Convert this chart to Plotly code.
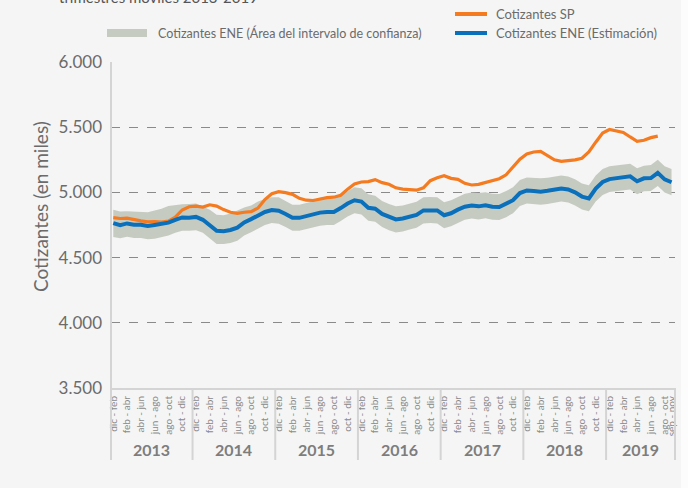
import plotly.graph_objects as go

# ---- data (thousands) ----
years = ["2013", "2014", "2015", "2016", "2017", "2018", "2019"]
months = ["dic - feb", "ene - mar", "feb - abr", "mar - may", "abr - jun", "may - jul",
          "jun - ago", "jul - sep", "ago - oct", "sep - nov", "oct - dic", "nov - ene"]
periods = months * 6 + months[:10]

ene_est = [4765, 4748, 4762, 4752, 4752, 4742, 4750, 4757, 4768, 4790, 4808, 4805,
           4812, 4790, 4745, 4705, 4703, 4712, 4730, 4770, 4795, 4825, 4850, 4865,
           4860, 4835, 4805, 4805, 4818, 4830, 4845, 4850, 4850, 4880, 4915, 4940,
           4930, 4882, 4875, 4835, 4810, 4793, 4800, 4815, 4828, 4862, 4865, 4862,
           4825, 4840, 4868, 4890, 4900, 4893, 4902, 4890, 4888, 4910, 4940, 4995,
           5015, 5010, 5006, 5012, 5022, 5030, 5023, 5000, 4968, 4954, 5030, 5080,
           5102, 5110, 5115, 5123, 5085, 5108, 5110, 5150, 5100, 5078]

ene_upper = [4866, 4853, 4855, 4853, 4850, 4848, 4862, 4875, 4895, 4905, 4910, 4912,
             4915, 4892, 4866, 4828, 4825, 4838, 4862, 4885, 4900, 4930, 4950, 4962,
             4962, 4935, 4905, 4905, 4918, 4930, 4945, 4950, 4950, 4980, 5012, 5040,
             5032, 4985, 4975, 4935, 4912, 4893, 4900, 4915, 4928, 4962, 4965, 4962,
             4925, 4940, 4968, 4990, 5000, 4995, 5002, 4990, 4988, 5010, 5040, 5095,
             5115, 5112, 5108, 5112, 5122, 5130, 5122, 5100, 5068, 5055, 5130, 5180,
             5200, 5208, 5212, 5220, 5185, 5205, 5210, 5250, 5200, 5180]

ene_lower = [4658, 4648, 4660, 4650, 4650, 4640, 4645, 4655, 4670, 4690, 4705, 4705,
             4710, 4690, 4645, 4605, 4605, 4612, 4630, 4670, 4695, 4725, 4750, 4765,
             4760, 4735, 4705, 4705, 4718, 4730, 4745, 4750, 4750, 4780, 4815, 4840,
             4830, 4782, 4775, 4735, 4710, 4693, 4700, 4715, 4728, 4762, 4765, 4762,
             4725, 4740, 4768, 4790, 4800, 4793, 4802, 4790, 4788, 4810, 4840, 4895,
             4915, 4910, 4906, 4912, 4922, 4930, 4923, 4900, 4868, 4855, 4930, 4980,
             5003, 5010, 5015, 5023, 4985, 5008, 5010, 5050, 5000, 4978]

sp = [4807, 4800, 4803, 4790, 4782, 4775, 4777, 4772, 4780, 4810, 4865, 4890,
      4895, 4888, 4905, 4895, 4868, 4848, 4840, 4848, 4852, 4880, 4945, 4990,
      5005, 4998, 4985, 4955, 4940, 4938, 4952, 4960, 4963, 4978, 5025, 5065,
      5080, 5083, 5098, 5075, 5062, 5035, 5025, 5018, 5017, 5035, 5090, 5112,
      5128, 5108, 5100, 5070, 5057, 5062, 5075, 5090, 5105, 5135, 5195, 5255,
      5295, 5310, 5315, 5280, 5250, 5238, 5243, 5250, 5262, 5310, 5385, 5455,
      5482, 5472, 5460, 5425, 5392, 5400, 5420, 5432]

y_ticks = [3500, 4000, 4500, 5000, 5500, 6000]
y_tick_labels = ["3.500", "4.000", "4.500", "5.000", "5.500", "6.000"]

# ---- styling ----
BG = "#f5f5f5"
ORANGE = "#f47b20"
BLUE = "#0a70bc"
BAND = "#c6cbc1"
GRID = "#8a8a8a"
AXIS = "#d4d4d4"
TXT = "#6b6b6b"
FONT = "Lato"

idx = list(range(len(periods)))
idx_sp = idx[:len(sp)]

tick_idx = [i for i in idx if i % 2 == 0] + [idx[-1]]
tick_txt = [periods[i] for i in tick_idx]

fig = go.Figure()
fig.add_trace(go.Scatter(x=idx, y=ene_lower, mode="lines", line=dict(width=0, color=BAND),
                         hoverinfo="skip", showlegend=False))
fig.add_trace(go.Scatter(x=idx, y=ene_upper, mode="lines", line=dict(width=0, color=BAND),
                         fill="tonexty", fillcolor=BAND, showlegend=False,
                         name="Cotizantes ENE (Área del intervalo de confianza)"))
fig.add_trace(go.Scatter(x=idx_sp, y=sp, mode="lines", line=dict(width=3.2, color=ORANGE),
                         name="Cotizantes SP", showlegend=False))
fig.add_trace(go.Scatter(x=idx, y=ene_est, mode="lines", line=dict(width=4, color=BLUE),
                         name="Cotizantes ENE (Estimación)", showlegend=False))

# page coordinates of the plot area (body margin removed via post_script)
W, H = 688, 488
P_L, P_R, P_T, P_B = 111, 675, 62, 388
pw = P_R - P_L
ph = P_B - P_T
L = P_L
T = P_T
R = W - P_R
B = H - P_B


def px(xp):
    return (xp - P_L) / pw


def py(yp):
    return (P_B - yp) / ph


fig.update_layout(
    width=W, height=H,
    margin=dict(l=L, r=R, t=T, b=B),
    paper_bgcolor=BG, plot_bgcolor=BG,
    font=dict(family=FONT, color=TXT),
    showlegend=False,
    xaxis=dict(range=[-0.33, 81.5], showgrid=False, zeroline=False,
               tickmode="array", tickvals=tick_idx, ticktext=tick_txt,
               tickangle=-90, tickfont=dict(size=10, color="#8a8a8a", family=FONT),
               ticks="", showline=True, linecolor=AXIS, linewidth=2,
               ticklabelstandoff=2),
    yaxis=dict(range=[3500, 6000], tickmode="array", tickvals=y_ticks,
               ticktext=y_tick_labels, tickfont=dict(size=17, color=TXT, family=FONT),
               showgrid=True, gridcolor=GRID, griddash="dash", gridwidth=1,
               zeroline=False, showline=False, ticks="", ticklabelstandoff=8),
)

shapes = []
shapes.append(dict(type="line", xref="paper", yref="paper", x0=0, x1=0,
                   y0=py(460), y1=1, line=dict(color=AXIS, width=2)))
for k in range(1, len(years)):
    xb = 12 * k - 0.5
    shapes.append(dict(type="line", xref="x", yref="paper", x0=xb, x1=xb,
                       y0=py(460), y1=0, line=dict(color=AXIS, width=2)))
shapes.append(dict(type="line", xref="paper", yref="paper", x0=1, x1=1,
                   y0=py(460), y1=0, line=dict(color=AXIS, width=2)))
shapes.append(dict(type="rect", xref="paper", yref="paper", x0=px(681), x1=px(720),
                   y0=py(520), y1=py(-20), fillcolor="#fcfcfc", line=dict(width=0),
                   layer="below"))
shapes.append(dict(type="line", xref="paper", yref="paper", x0=px(455), x1=px(487),
                   y0=py(14), y1=py(14), line=dict(color=ORANGE, width=4)))
shapes.append(dict(type="line", xref="paper", yref="paper", x0=px(455), x1=px(487),
                   y0=py(33), y1=py(33), line=dict(color=BLUE, width=4)))
shapes.append(dict(type="rect", xref="paper", yref="paper", x0=px(107), x1=px(147),
                   y0=py(37), y1=py(29), fillcolor=BAND, line=dict(width=0)))

ann = []
year_centers = [5.6, 17.5, 29.5, 41.5, 53.5, 65.5, 76.5]
for yname, xc in zip(years, year_centers):
    ann.append(dict(x=xc, y=py(449), xref="x", yref="paper", text="<b>%s</b>" % yname,
                    showarrow=False, font=dict(size=16, color="#7d7d7d", family=FONT),
                    xanchor="center", yanchor="middle"))
ann.append(dict(x=px(40), y=py(207), xref="paper", yref="paper",
                text="Cotizantes (en miles)", textangle=-90, showarrow=False,
                font=dict(size=19, color=TXT, family=FONT),
                xanchor="center", yanchor="middle"))
ann.append(dict(x=px(494), y=py(14), xref="paper", yref="paper", text="Cotizantes SP",
                showarrow=False, font=dict(size=13, color=TXT, family=FONT),
                xanchor="left", yanchor="middle"))
ann.append(dict(x=px(494), y=py(33), xref="paper", yref="paper",
                text="Cotizantes ENE (Estimación)", showarrow=False,
                font=dict(size=13, color=TXT, family=FONT),
                xanchor="left", yanchor="middle"))
ann.append(dict(x=px(156), y=py(33), xref="paper", yref="paper",
                text="Cotizantes ENE (Área del intervalo de confianza)", showarrow=False,
                font=dict(size=12.5, color=TXT, family=FONT),
                xanchor="left", yanchor="middle"))
ann.append(dict(x=px(57), y=py(-3), xref="paper", yref="paper",
                text="trimestres móviles 2013-2019", showarrow=False,
                font=dict(size=15, color="#555555", family=FONT),
                xanchor="left", yanchor="middle"))

fig.update_layout(shapes=shapes, annotations=ann)
fig.write_html("out.html", config={"displayModeBar": False},
               post_script="document.body.style.margin='0';")
